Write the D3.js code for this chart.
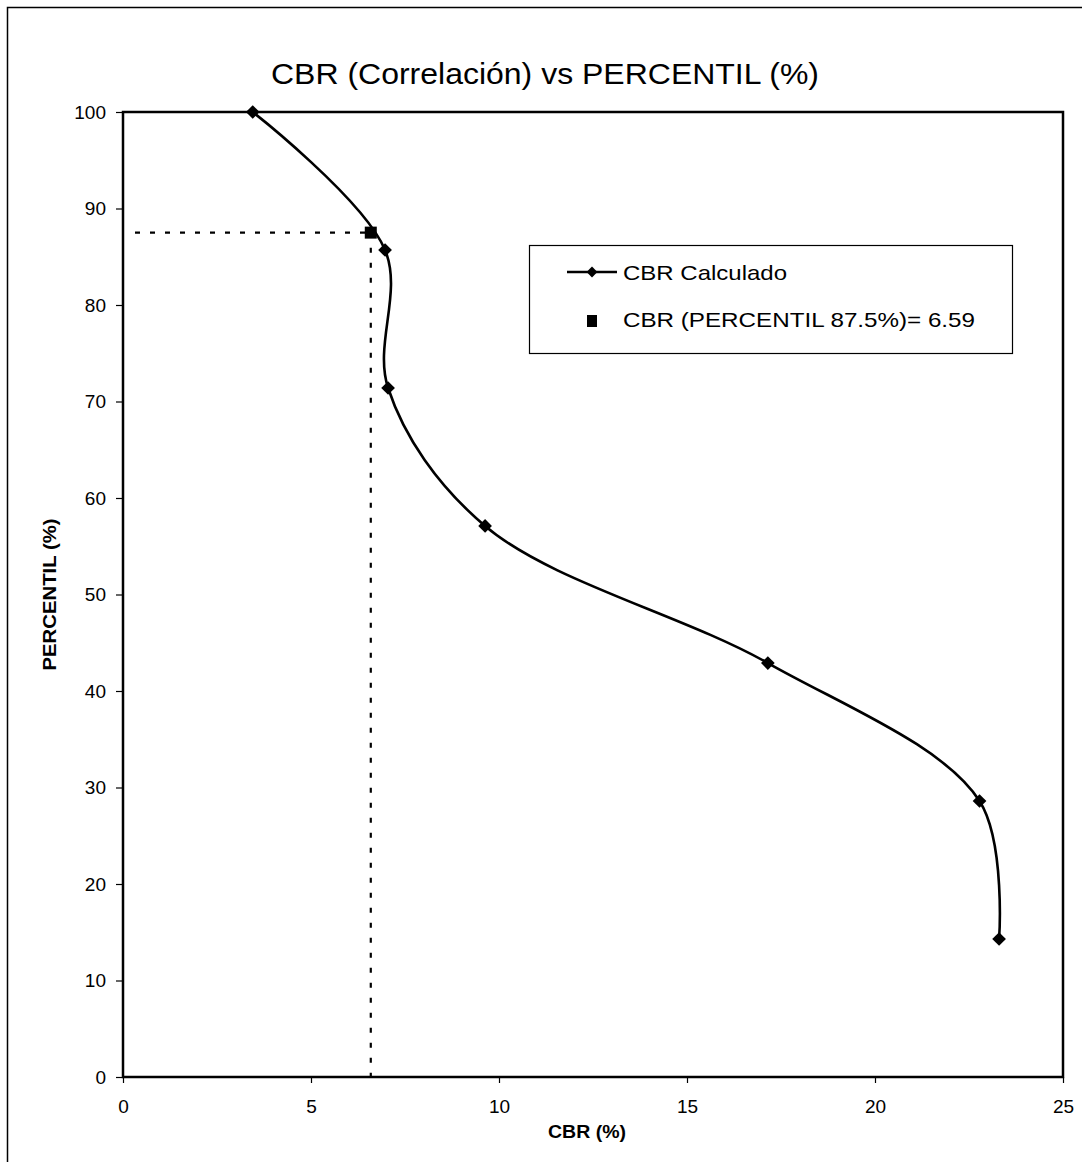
<!DOCTYPE html>
<html>
<head>
<meta charset="utf-8">
<script src="https://cdn.jsdelivr.net/npm/d3@7"></script>
<style>
  html, body { margin: 0; padding: 0; background: #fff; }
  svg { display: block; font-family: "Liberation Sans", Arial, sans-serif; }
</style>
</head>
<body>
<svg id="chart" width="1082" height="1162"></svg>
<script>
// CBR values (%) and their percentiles
const cbrValues = [3.45, 6.97, 7.05, 9.63, 17.15, 22.78, 23.3];
const percentiles = [100, 85.7, 71.4, 57.1, 42.9, 28.6, 14.3];

// Design CBR read at the 87.5 % percentile
const designCbr = 6.59;
const designPercentile = 87.5;

const xTicks = [0, 5, 10, 15, 20, 25];
const yTicks = [0, 10, 20, 30, 40, 50, 60, 70, 80, 90, 100];

const titleText = "CBR (Correlación) vs PERCENTIL (%)";
const xTitle = "CBR (%)";
const yTitle = "PERCENTIL (%)";
const legendLabels = ["CBR Calculado", "CBR (PERCENTIL 87.5%)= 6.59"];

const FONT = "Liberation Sans, Arial, sans-serif";
const svg = d3.select("#chart");
const plot = { left: 123, right: 1063, top: 112, bottom: 1077 };

const x = d3.scaleLinear().domain([0, 25]).range([plot.left, plot.right]);
const y = d3.scaleLinear().domain([0, 100]).range([plot.bottom, plot.top]);

// outer chart frame (left and top edges visible)
svg.append("path")
  .attr("d", "M7.5,1162 L7.5,7.5 L1082,7.5")
  .attr("fill", "none").attr("stroke", "#000").attr("stroke-width", 1.5);

// title
svg.append("text")
  .attr("x", 545).attr("y", 84)
  .attr("text-anchor", "middle")
  .attr("font-size", 30)
  .attr("textLength", 548).attr("lengthAdjust", "spacingAndGlyphs")
  .text(titleText);

// axes
const xAxis = d3.axisBottom(x).tickValues(xTicks).tickSize(6).tickFormat(d3.format("d"));
const yAxis = d3.axisLeft(y).tickValues(yTicks).tickSize(7).tickPadding(10).tickFormat(d3.format("d"));

const gx = svg.append("g").attr("transform", `translate(0,${plot.bottom})`).call(xAxis);
gx.select(".domain").remove();
gx.selectAll(".tick line").attr("stroke", "#000").attr("stroke-width", 1.2);
gx.selectAll("text")
  .attr("font-size", 19).attr("font-family", FONT).attr("fill", "#000")
  .attr("y", 23).attr("dy", "0.71em");

const gy = svg.append("g").attr("transform", `translate(${plot.left},0)`).call(yAxis);
gy.select(".domain").remove();
gy.selectAll(".tick line").attr("stroke", "#000").attr("stroke-width", 1.2);
gy.selectAll("text").attr("font-size", 19).attr("font-family", FONT).attr("fill", "#000");

// plot area frame
svg.append("rect")
  .attr("x", plot.left).attr("y", plot.top)
  .attr("width", plot.right - plot.left).attr("height", plot.bottom - plot.top)
  .attr("fill", "none").attr("stroke", "#000").attr("stroke-width", 2.5);

// axis titles
svg.append("text")
  .attr("x", 587).attr("y", 1138)
  .attr("text-anchor", "middle").attr("font-size", 18).attr("font-weight", "bold")
  .attr("textLength", 78).attr("lengthAdjust", "spacingAndGlyphs")
  .text(xTitle);
svg.append("text")
  .attr("transform", `translate(56,${y(50)}) rotate(-90)`)
  .attr("text-anchor", "middle").attr("font-size", 19).attr("font-weight", "bold")
  .attr("textLength", 152).attr("lengthAdjust", "spacingAndGlyphs")
  .text(yTitle);

// dotted guide lines to the design point
svg.append("line")
  .attr("x1", 135).attr("x2", x(designCbr))
  .attr("y1", y(designPercentile)).attr("y2", y(designPercentile))
  .attr("stroke", "#000").attr("stroke-width", 2.2).attr("stroke-dasharray", "5,10");
svg.append("line")
  .attr("x1", x(designCbr)).attr("x2", x(designCbr))
  .attr("y1", y(designPercentile)).attr("y2", plot.bottom)
  .attr("stroke", "#000").attr("stroke-width", 2.2).attr("stroke-dasharray", "5,10");

// smoothed series line
const pts = cbrValues.map((c, i) => [c, percentiles[i]]);
const line = d3.line()
  .x(d => x(d[0])).y(d => y(d[1]))
  .curve(d3.curveCatmullRom.alpha(0.5));
svg.append("path")
  .datum(pts)
  .attr("d", line)
  .attr("fill", "none").attr("stroke", "#000").attr("stroke-width", 2.6);

// diamond markers
const diamond = d3.symbol().type(d3.symbolDiamond2).size(120);
svg.selectAll(".marker")
  .data(pts).join("path")
  .attr("class", "marker")
  .attr("transform", d => `translate(${x(d[0])},${y(d[1])})`)
  .attr("d", diamond)
  .attr("fill", "#000");

// design point square
svg.append("rect")
  .attr("x", x(designCbr) - 6).attr("y", y(designPercentile) - 6)
  .attr("width", 12).attr("height", 12).attr("fill", "#000");

// legend
const lg = svg.append("g");
lg.append("rect")
  .attr("x", 529.5).attr("y", 245.5).attr("width", 483).attr("height", 108)
  .attr("fill", "#fff").attr("stroke", "#000").attr("stroke-width", 1.2);
lg.append("line")
  .attr("x1", 567).attr("x2", 617).attr("y1", 272).attr("y2", 272)
  .attr("stroke", "#000").attr("stroke-width", 2.5);
lg.append("path")
  .attr("transform", "translate(592,272)")
  .attr("d", d3.symbol().type(d3.symbolDiamond2).size(75))
  .attr("fill", "#000");
lg.append("rect")
  .attr("x", 587).attr("y", 315).attr("width", 10).attr("height", 12).attr("fill", "#000");
const legendWidths = [164, 352];
lg.selectAll(".lt")
  .data(legendLabels).join("text")
  .attr("class", "lt")
  .attr("x", 623).attr("y", (d, i) => 280 + i * 47)
  .attr("font-size", 21)
  .attr("textLength", (d, i) => legendWidths[i]).attr("lengthAdjust", "spacingAndGlyphs")
  .text(d => d);
</script>
</body>
</html>
